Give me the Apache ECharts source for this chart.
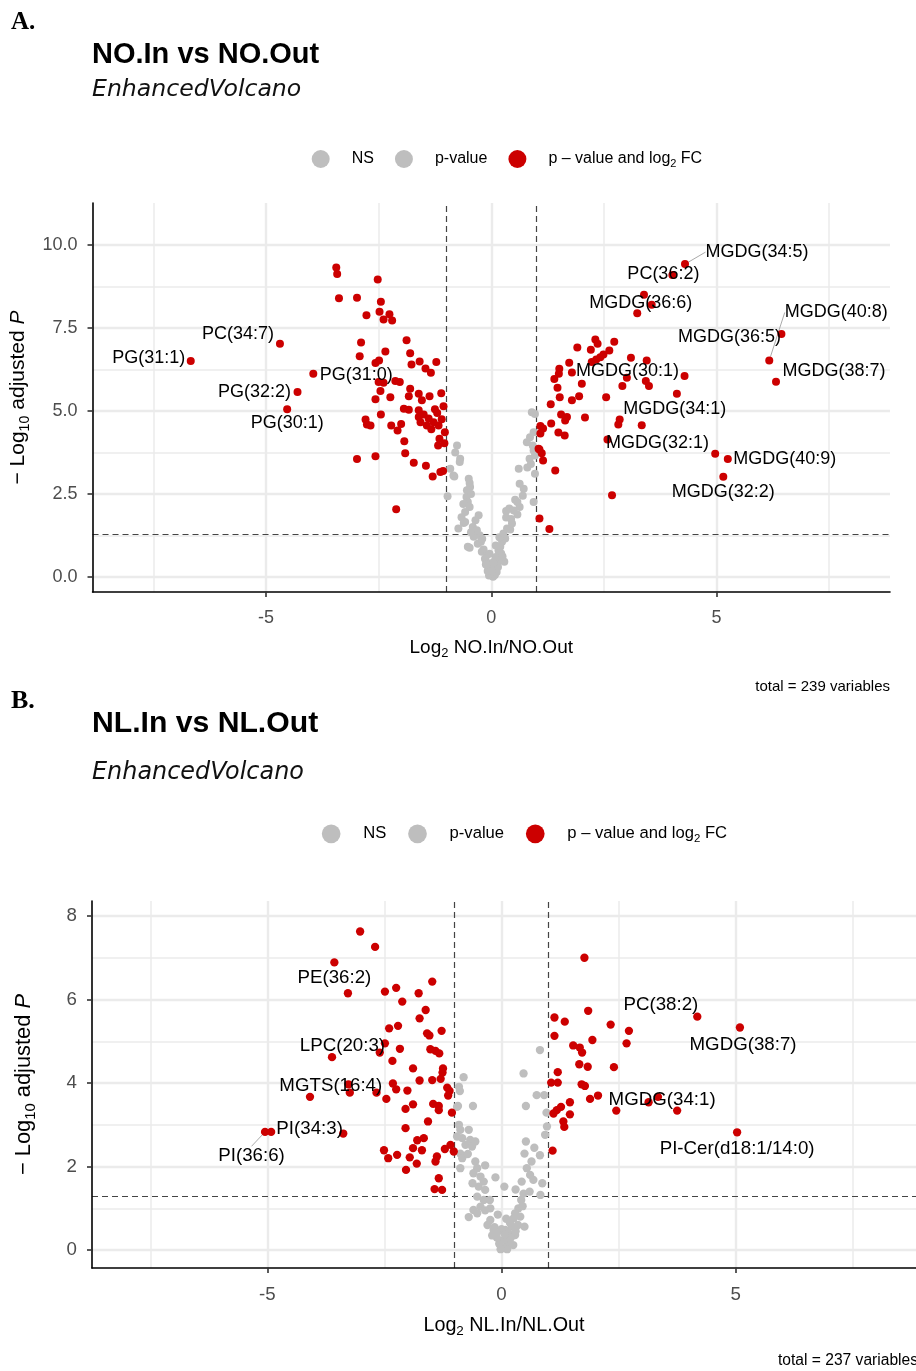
<!DOCTYPE html>
<html>
<head>
<meta charset="utf-8">
<title>Volcano plots</title>
<script src="https://cdn.jsdelivr.net/npm/echarts@6.0.0/dist/echarts.min.js"></script>
<style>
  html, body { margin: 0; padding: 0; background: #fff; }
  #chart { width: 916px; height: 1371px; }
</style>
</head>
<body>
<div id="chart"></div>
<script>
// ---------- thresholds and legend names ----------
const P_CUT = 1.30103;          // -log10(0.05)
const FC_CUT = 1;               // |log2 FC| cut-off
const SIG = 'p – value and log2 FC';

// ---------- panel A : NO.In vs NO.Out ----------
const aXTicks = [-5, 0, 5];
const aXMinor = [-7.5, -2.5, 2.5, 7.5];
const aYTicks = [0, 2.5, 5, 7.5, 10];
const aYMinor = [1.25, 3.75, 6.25, 8.75];

// not significant by fold change (grey)
const aGrey = [
  [-0.76,3.96],[-0.69,3.56],[-0.70,3.46],[-0.91,3.26],[-0.82,3.03],[-0.84,3.06],[-0.50,2.96],[-0.48,2.83],
  [-0.47,2.71],[-0.54,2.61],[-0.97,2.43],[-0.55,2.41],[-0.52,2.26],[-0.62,2.20],[-0.48,2.11],[-0.58,1.96],
  [-0.28,1.86],[-0.35,1.71],[-0.61,1.63],[-0.58,1.66],[-0.73,1.46],[-0.41,1.51],[-0.32,1.41],[-0.26,1.26],
  [-0.39,1.21],[-0.23,1.06],[-0.48,0.88],[-0.52,0.91],[-0.17,0.83],[-0.21,0.76],[-0.10,0.66],[-0.11,0.46],
  [-0.02,0.36],[-0.06,0.26],[0.02,0.11],[0.04,0.01],[0.09,0.23],[0.13,0.41],[0.20,0.53],[0.29,0.46],
  [0.22,0.71],[0.20,0.91],[0.24,1.06],[0.31,1.16],[0.27,1.31],[0.35,1.46],[0.42,1.43],[0.46,1.61],
  [0.33,1.79],[0.40,2.06],[0.33,1.99],[0.58,1.88],[0.63,2.11],[0.53,2.33],[0.58,2.26],[0.94,2.26],
  [0.72,2.66],[0.63,2.81],[0.61,3.26],[0.85,3.56],[0.97,3.11],[0.92,3.96],[0.79,4.06],[0.86,4.21],
  [0.94,4.36],[0.90,4.96],[0.97,4.91],[0.94,3.81],[0.97,3.66],[-0.05,0.05],[0.08,0.06],[0.12,0.15],
  [-0.08,0.18],[0.00,0.30],[0.15,0.30],[-0.14,0.55],[0.05,0.45],[0.10,0.60],[-0.04,0.70],[0.16,0.80],
  [-0.30,1.00],[0.10,0.95],[-0.20,1.15],[0.18,1.20],[-0.45,1.35],[0.50,2.00],[0.70,2.45],[-0.45,2.50],
  [0.80,3.30],[-0.80,3.75],[0.88,3.40],[0.00,0.18],[-0.12,0.38],[0.25,0.62],[-0.66,1.80],[0.44,1.75]
];

// significant by p-value and fold change (red)
const aSig = [
  [-3.44,9.32],[-3.42,9.12],[-2.52,8.96],[-3.38,8.39],[-2.98,8.41],[-2.45,8.29],[-2.77,7.88],[-2.48,7.99],
  [-2.26,7.91],[-2.39,7.75],[-2.20,7.72],[-2.89,7.06],[-1.88,7.13],[-2.35,6.79],[-2.92,6.65],[-1.80,6.74],
  [-2.57,6.44],[-2.49,6.52],[-1.77,6.40],[-1.59,6.49],[-1.46,6.28],[-1.22,6.47],[-1.34,6.15],[-2.50,5.87],
  [-2.39,5.85],[-2.13,5.90],[-2.03,5.87],[-1.80,5.67],[-2.46,5.60],[-2.24,5.41],[-2.57,5.35],[-1.83,5.44],
  [-1.61,5.52],[-1.54,5.32],[-1.37,5.44],[-1.11,5.53],[-1.06,5.14],[-1.94,5.07],[-1.83,5.04],[-1.61,5.02],
  [-2.45,4.89],[-1.61,4.82],[-1.50,4.89],[-1.20,4.94],[-1.39,4.77],[-1.57,4.66],[-1.28,4.66],[-1.17,4.56],
  [-1.43,4.56],[-2.79,4.74],[-2.76,4.59],[-2.68,4.56],[-2.22,4.56],[-2.00,4.61],[-2.08,4.41],[-1.03,4.36],
  [-1.15,4.16],[-1.04,4.03],[-1.18,3.96],[-1.93,4.09],[-1.91,3.73],[-2.98,3.55],[-2.57,3.64],[-1.72,3.44],
  [-1.45,3.35],[-1.30,3.03],[-1.13,3.16],[-1.07,3.19],[-2.11,2.04],[-1.25,5.05],[-1.10,4.75],[-1.33,4.45],
  [2.31,7.15],[2.36,7.02],[2.73,7.08],[1.91,6.91],[2.21,6.84],[2.62,6.82],[2.49,6.70],[2.42,6.62],
  [2.33,6.55],[2.23,6.47],[3.10,6.60],[3.45,6.52],[1.73,6.45],[1.51,6.27],[1.50,6.12],[1.79,6.16],
  [1.40,5.96],[2.01,5.82],[3.01,6.00],[2.91,5.75],[3.43,5.90],[3.50,5.75],[4.12,5.52],[1.47,5.70],
  [1.52,5.41],[1.79,5.32],[1.95,5.44],[2.55,5.41],[1.32,5.20],[1.55,4.89],[1.68,4.82],[1.64,4.71],
  [2.08,4.80],[1.33,4.62],[1.09,4.55],[1.15,4.47],[1.09,4.32],[1.49,4.35],[1.63,4.26],[1.07,3.84],
  [1.12,3.73],[1.15,3.51],[1.42,3.21],[2.68,2.46],[1.07,1.76],[1.29,1.45],[1.05,3.86],[2.85,4.74],
  [2.82,4.59],[4.97,3.71],[3.39,8.50],[3.24,7.94]
];

// named lipids
const aLabelNames = ['PG(31:1)','PC(34:7)','PG(31:0)','PG(32:2)','PG(30:1)','MGDG(34:5)','PC(36:2)','MGDG(36:6)',
  'MGDG(40:8)','MGDG(36:5)','MGDG(38:7)','MGDG(30:1)','MGDG(34:1)','MGDG(32:1)','MGDG(40:9)','MGDG(32:2)'];
const aLabelPoints = [[-6.67,6.50],[-4.69,7.02],[-3.95,6.12],[-4.30,5.57],[-4.53,5.05],[4.30,9.42],[4.02,9.09],[3.56,8.20],
  [6.17,6.52],[6.44,7.32],[6.32,5.88],[4.29,6.05],[3.34,4.57],[2.58,4.14],[5.25,3.55],[5.15,3.02]];

// ---------- panel B : NL.In vs NL.Out ----------
const bXTicks = [-5, 0, 5];
const bXMinor = [-7.5, -2.5, 2.5, 7.5];
const bYTicks = [0, 2, 4, 6, 8];
const bYMinor = [1, 3, 5, 7];

const bGrey = [
  [-0.81,4.14],[-0.91,3.91],[-0.89,3.81],[-0.93,3.45],[-0.61,3.45],[-0.95,3.43],[-0.91,3.00],[-0.88,2.88],
  [-0.95,2.72],[-0.84,2.68],[-0.70,2.88],[-0.67,2.64],[-0.56,2.60],[-0.77,2.52],[-0.63,2.48],[-0.88,2.31],
  [-0.84,2.20],[-0.88,1.96],[-0.56,2.12],[-0.52,1.96],[-0.35,2.03],[-0.60,1.84],[-0.45,1.76],[-0.38,1.64],
  [-0.49,1.52],[-0.35,1.44],[-0.13,1.74],[0.06,1.52],[-0.52,1.28],[-0.38,1.20],[-0.45,1.04],[-0.24,1.00],
  [-0.60,0.96],[-0.52,0.88],[-0.70,0.79],[-0.24,0.72],[-0.17,0.48],[-0.10,0.40],[0.08,0.48],[0.15,0.40],
  [0.22,0.56],[0.82,4.79],[0.47,4.23],[0.75,3.71],[0.91,3.71],[0.52,3.45],[0.96,3.29],[0.97,2.96],
  [0.93,2.76],[0.52,2.60],[0.49,2.31],[0.82,2.27],[0.64,2.12],[0.54,1.96],[0.61,1.80],[0.43,1.64],
  [0.68,1.68],[0.87,1.60],[0.83,1.32],[0.47,1.35],[0.42,1.20],[0.36,1.00],[0.29,0.88],[0.26,0.76],
  [0.49,0.56],[0.29,0.36],[0.11,0.32],[0.02,0.05],[0.10,0.10],[0.15,0.20],[-0.05,0.15],[0.20,0.30],
  [0.05,0.25],[-0.10,0.30],[0.12,0.02],[0.25,0.12],[0.30,0.45],[0.35,0.60],[-0.30,0.60],[-0.20,0.35],
  [-0.15,0.55],[0.00,0.50],[0.18,0.65],[-0.08,0.85],[0.10,0.75],[0.40,0.80],[0.45,1.05],[-0.35,0.95],
  [-0.25,1.20],[0.30,1.45],[-0.02,0.02],[0.07,0.38],[-0.72,2.30],[-0.62,1.60],[0.70,2.45],[0.60,1.40]
];

const bSig = [
  [-3.02,7.63],[-2.70,7.26],[-3.28,6.15],[-2.49,6.19],[-2.25,6.28],[-1.77,6.15],[-1.48,6.43],[-2.12,5.95],
  [-1.62,5.75],[-1.75,5.55],[-2.40,5.31],[-2.21,5.37],[-1.59,5.19],[-1.54,5.14],[-1.28,5.25],[-2.49,4.95],
  [-2.60,4.73],[-2.17,4.82],[-1.52,4.81],[-1.41,4.77],[-1.33,4.71],[-2.33,4.53],[-1.89,4.35],[-1.25,4.35],
  [-1.26,4.25],[-1.75,4.06],[-1.48,4.07],[-1.30,4.10],[-2.32,3.99],[-2.25,3.85],[-2.01,3.82],[-1.16,3.89],
  [-1.11,3.81],[-1.14,3.70],[-3.27,3.97],[-3.24,3.77],[-2.67,3.77],[-2.46,3.62],[-2.05,3.38],[-1.89,3.49],
  [-1.46,3.50],[-1.34,3.45],[-1.34,3.35],[-1.06,3.29],[-1.57,3.08],[-2.05,2.92],[-3.38,2.79],[-1.80,2.63],
  [-1.66,2.68],[-1.89,2.44],[-1.70,2.39],[-2.51,2.39],[-2.42,2.20],[-2.23,2.28],[-1.96,2.22],[-1.81,2.07],
  [-1.38,2.24],[-1.41,2.12],[-1.21,2.42],[-1.09,2.52],[-1.02,2.36],[-2.04,1.92],[-1.34,1.72],[-1.43,1.46],
  [-1.27,1.44],
  [1.13,5.57],[1.35,5.47],[1.13,5.13],[1.85,5.73],[2.33,5.40],[1.94,5.03],[1.53,4.90],[1.67,4.85],
  [1.72,4.73],[1.66,4.45],[1.84,4.39],[2.40,4.38],[1.20,4.26],[1.06,4.01],[1.20,4.01],[1.71,3.97],
  [1.78,3.93],[2.06,3.70],[1.89,3.62],[1.46,3.54],[1.27,3.43],[1.18,3.35],[1.11,3.27],[1.46,3.25],
  [1.32,3.08],[1.34,2.95],[1.09,2.38],[1.77,7.00],[2.72,5.25],[2.67,4.95],[3.14,3.54],[3.75,3.34],
  [2.45,3.34]
];

const bLabelNames = ['PE(36:2)','LPC(20:3)','MGTS(16:4)','PI(34:3)','PI(36:6)','PC(38:2)','MGDG(38:7)','MGDG(34:1)',
  'PI-Cer(d18:1/14:0)'];
const bLabelPoints = [[-3.57,6.89],[-3.62,4.62],[-4.09,3.67],[-4.92,2.83],[-5.05,2.83],[4.18,5.59],[5.09,5.33],[3.34,3.67],
  [5.03,2.82]];

// ---------- styling ----------
const SANS = '"Liberation Sans", Arial, Helvetica, sans-serif';
const SERIF = '"Liberation Serif", "Times New Roman", serif';
const GREY = '#BEBEBE';
const RED = '#CC0000';

// label placement: pixel shift of each label centre from its point, and which ones get a leader line
const aLabelLook = {
  shift: {
    'PG(31:1)': [-42, -3], 'PC(34:7)': [-42, -10], 'PG(31:0)': [43, 1], 'PG(32:2)': [-43, 0],
    'PG(30:1)': [0, 14], 'MGDG(34:5)': [72, -12], 'PC(36:2)': [-9, -1], 'MGDG(36:6)': [-11, -2],
    'MGDG(40:8)': [67, -48], 'MGDG(36:5)': [-52, 3], 'MGDG(38:7)': [58, -11], 'MGDG(30:1)': [-57, -5],
    'MGDG(34:1)': [33, -16], 'MGDG(32:1)': [50, 4], 'MGDG(40:9)': [57, 0], 'MGDG(32:2)': [0, 15]
  },
  leader: ['MGDG(34:5)', 'MGDG(40:8)']
};
const bLabelLook = {
  shift: {
    'PE(36:2)': [0, 15], 'LPC(20:3)': [10, -11], 'MGTS(16:4)': [20, -11], 'PI(34:3)': [37, -3],
    'PI(36:6)': [-13, 23], 'PC(38:2)': [-35, -11], 'MGDG(38:7)': [3, 17], 'MGDG(34:1)': [4, 3],
    'PI-Cer(d18:1/14:0)': [0, 16]
  },
  leader: ['PI(36:6)']
};

const panels = [
  {
    title: 'NO.In vs NO.Out', caption: 'total = 239 variables',
    xName: '{m|Log}{s|2}{m| NO.In/NO.Out}',
    grey: aGrey, sig: aSig, names: aLabelNames, points: aLabelPoints, look: aLabelLook,
    xTicks: aXTicks, xMinor: aXMinor, yTicks: aYTicks, yMinor: aYMinor,
    yFmt: v => v.toFixed(1),
    box: { top: 203, width: 798, height: 389, xMin: -8.85, xMax: 8.85, yMin: -0.45, yMax: 11.26 },
    k: 1.0, subSize: 23.6,
    pos: { tag: 10.5, title: 40.5, sub: 78.2, legendLeft: 311.7, legendTop: 150, caption: 679.5, captionRight: 26 }
  },
  {
    title: 'NL.In vs NL.Out', caption: 'total = 237 variables',
    xName: '{m|Log}{s|2}{m| NL.In/NL.Out}',
    grey: bGrey, sig: bSig, names: bLabelNames, points: bLabelPoints, look: bLabelLook,
    xTicks: bXTicks, xMinor: bXMinor, yTicks: bYTicks, yMinor: bYMinor,
    yFmt: v => String(v),
    box: { top: 901, width: 827, height: 367, xMin: -8.745, xMax: 8.85, yMin: -0.43, yMax: 8.36 },
    k: 1.04, subSize: 23.9,
    pos: { tag: 688, title: 708.5, sub: 760.5, legendLeft: 321.8, legendTop: 824.5, caption: 1353, captionRight: -2 }
  }
];

function lineSet(items, color, type, width) {
  return {
    silent: true, animation: false, symbol: ['none', 'none'],
    label: { show: false }, emphasis: { disabled: true },
    lineStyle: { color: color, type: type, width: width },
    data: items
  };
}

function nameRich(k, size) {
  return {
    m: { fontFamily: SANS, fontSize: size * k, color: '#000' },
    s: { fontFamily: SANS, fontSize: size * 0.68 * k, color: '#000', padding: [size * 0.58 * k, 0, 0, 0] },
    i: { fontFamily: SANS, fontSize: size * k, color: '#000', fontStyle: 'italic' }
  };
}

const option = {
  backgroundColor: '#fff',
  animation: false,
  title: [], legend: [], grid: [], xAxis: [], yAxis: [], series: []
};

panels.forEach((p, i) => {
  const k = p.k, b = p.box, pos = p.pos;

  option.title.push(
    { text: i === 0 ? 'A.' : 'B.', left: 11, top: pos.tag, padding: 0,
      textStyle: { fontFamily: SERIF, fontSize: 25 * k, fontWeight: 'bold', color: '#000' } },
    { text: p.title, left: 92, top: pos.title, padding: 0,
      textStyle: { fontFamily: SANS, fontSize: 29 * k, fontWeight: 'bold', color: '#000' } },
    { text: 'EnhancedVolcano', left: 92, top: pos.sub, padding: 0,
      textStyle: { fontFamily: '"DejaVu Sans", sans-serif', fontSize: p.subSize, fontStyle: 'italic', fontWeight: 'normal', color: '#111' } },
    { text: p.caption, right: pos.captionRight, top: pos.caption, padding: 0,
      textStyle: { fontFamily: SANS, fontSize: 15 * k, fontWeight: 'normal', color: '#000' } }
  );

  option.legend.push({
    left: pos.legendLeft, top: pos.legendTop, padding: 0, orient: 'horizontal',
    itemWidth: 52 * k, itemHeight: 18 * k, itemGap: 21 * k, selectedMode: false,
    data: ['NS', 'p-value', SIG],
    itemStyle: { opacity: 1 },
    formatter: n => (n === SIG ? 'p – value and log{s|2} FC' : n),
    textStyle: {
      fontFamily: SANS, fontSize: 16 * k, color: '#000',
      rich: {
        s: { fontFamily: SANS, fontSize: 11 * k, color: '#000', padding: [9 * k, 0, 0, 0] }
      }
    }
  });

  option.grid.push({ left: 92, top: b.top, width: b.width, height: b.height, containLabel: false });

  option.xAxis.push({
    gridIndex: i, type: 'value', min: b.xMin, max: b.xMax, z: 6,
    axisLine: { onZero: false, lineStyle: { color: '#000', width: 1.6 } },
    axisTick: { customValues: p.xTicks, length: 5, lineStyle: { color: '#333', width: 1.6 } },
    axisLabel: { customValues: p.xTicks, margin: 17, color: '#4D4D4D', fontSize: 18 * k, fontFamily: SANS,
      formatter: v => String(v) },
    splitLine: { show: false },
    name: p.xName, nameLocation: 'middle', nameGap: 44 * k,
    nameTextStyle: { rich: nameRich(k, 19) }
  });

  option.yAxis.push({
    gridIndex: i, type: 'value', min: b.yMin, max: b.yMax, z: 6,
    axisLine: { onZero: false, lineStyle: { color: '#000', width: 1.6 } },
    axisTick: { customValues: p.yTicks, length: 5, lineStyle: { color: '#333', width: 1.6 } },
    axisLabel: { customValues: p.yTicks, margin: 15, color: '#4D4D4D', fontSize: 18 * k, fontFamily: SANS,
      formatter: p.yFmt },
    splitLine: { show: false },
    name: '{m|− Log}{s|10}{m| adjusted }{i|P}', nameLocation: 'middle', nameRotate: 90, nameGap: 52 * k,
    nameTextStyle: { rich: nameRich(k, 21) }
  });

  const gridMarks = [].concat(
    p.xMinor.map(v => ({ xAxis: v, lineStyle: { width: 1.5 } })),
    p.xTicks.map(v => ({ xAxis: v, lineStyle: { width: 2.4 } })),
    p.yMinor.map(v => ({ yAxis: v, lineStyle: { width: 1.5 } })),
    p.yTicks.map(v => ({ yAxis: v, lineStyle: { width: 2.4 } }))
  );
  const cutMarks = [{ xAxis: -FC_CUT }, { xAxis: FC_CUT }, { yAxis: P_CUT }];

  const base = {
    type: 'scatter', xAxisIndex: i, yAxisIndex: i, symbol: 'circle', symbolSize: 8 * k,
    z: 10, silent: true, animation: false, emphasis: { disabled: true }
  };

  const labeled = p.names.map((n, j) => ({
    name: n, value: p.points[j],
    labelLine: { show: p.look.leader.indexOf(n) >= 0 }
  }));

  option.series.push(
    Object.assign({}, base, {
      name: 'NS', data: p.grey.filter(d => d[1] < P_CUT), itemStyle: { color: GREY, opacity: 1 },
      markLine: lineSet(gridMarks, '#EBEBEB', 'solid', 1.5)
    }),
    Object.assign({}, base, {
      name: 'p-value', data: p.grey.filter(d => d[1] >= P_CUT), itemStyle: { color: GREY, opacity: 1 },
      markLine: lineSet(cutMarks, '#444444', [6, 4], 1.2)
    }),
    Object.assign({}, base, { name: SIG, data: p.sig, itemStyle: { color: RED, opacity: 1 } }),
    Object.assign({}, base, {
      name: SIG, data: labeled, itemStyle: { color: RED, opacity: 1 },
      label: { show: true, position: 'inside', formatter: '{b}', fontFamily: SANS, fontSize: 18 * k, color: '#000' },
      labelLine: { show: false, lineStyle: { color: '#A0A0A0', width: 0.9 } },
      labelLayout: params => {
        const s = p.look.shift[p.names[params.dataIndex]] || [0, 0];
        return { dx: s[0] * k, dy: s[1] * k };
      }
    })
  );
});

const chart = echarts.init(document.getElementById('chart'), null, { renderer: 'canvas' });
chart.setOption(option);
</script>
</body>
</html>
